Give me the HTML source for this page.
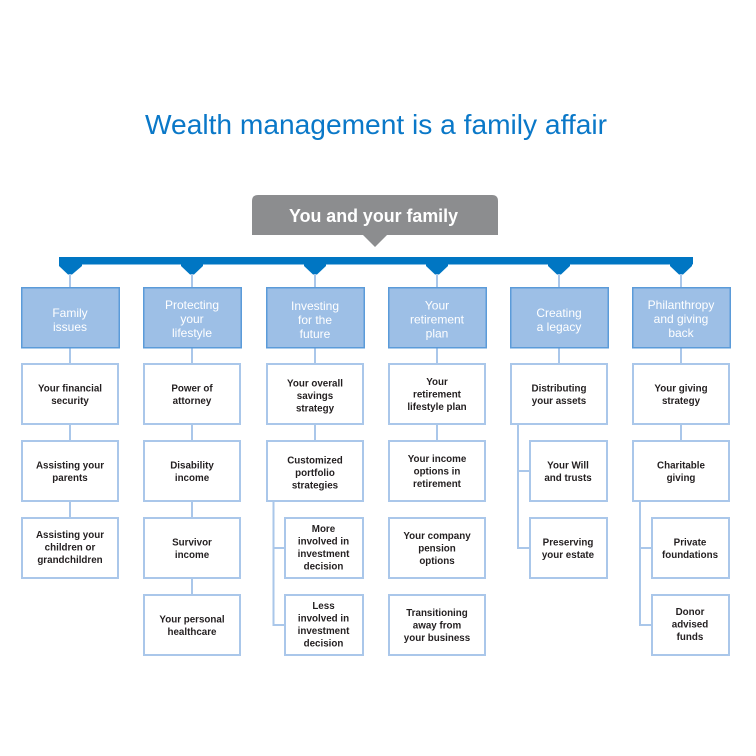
<!DOCTYPE html>
<html><head><meta charset="utf-8"><style>
html,body{margin:0;padding:0;background:#fff;}
svg{display:block;}
.h{font-family:"Liberation Sans",sans-serif;font-size:12px;fill:#fff;text-anchor:middle;}
.b{font-family:"Liberation Sans",sans-serif;font-size:9.8px;font-weight:bold;fill:#231f20;text-anchor:middle;}
</style></head><body>
<svg width="756" height="756" viewBox="0 0 756 756" xmlns="http://www.w3.org/2000/svg">
<rect width="756" height="756" fill="#fff"/>
<text x="145" y="134" font-family="Liberation Sans, sans-serif" font-size="28" fill="#0a78c8" textLength="462" lengthAdjust="spacingAndGlyphs">Wealth management is a family affair</text>

<!-- gray box -->
<path d="M252,235 L252,201 Q252,195 258,195 L492,195 Q498,195 498,201 L498,235 L387,235 L375,247 L363,235 Z" fill="#8c8d8f"/>
<text x="289" y="222" font-family="Liberation Sans, sans-serif" font-size="18.5" font-weight="bold" fill="#fff" textLength="169" lengthAdjust="spacingAndGlyphs">You and your family</text>

<!-- blue bar -->
<rect x="59" y="257" width="634" height="7.5" fill="#0076c3"/>
<g fill="#0076c3">
<polygon points="59,263 82,263 82,266 72,274.5 68,274.5 59,266"/>
<polygon points="181,263 203,263 203,266 194,274.5 190,274.5 181,266"/>
<polygon points="304,263 326,263 326,266 317,274.5 313,274.5 304,266"/>
<polygon points="426,263 448,263 448,266 439,274.5 435,274.5 426,266"/>
<polygon points="548,263 570,263 570,266 561,274.5 557,274.5 548,266"/>
<polygon points="670,263 692,263 692,266 683,274.5 679,274.5 670,266"/>
</g>

<!-- connectors -->
<g stroke="#aac7ea" stroke-width="2" fill="none">
<line x1="70" y1="274" x2="70" y2="287"/>
<line x1="192" y1="274" x2="192" y2="287"/>
<line x1="315" y1="274" x2="315" y2="287"/>
<line x1="437" y1="274" x2="437" y2="287"/>
<line x1="559" y1="274" x2="559" y2="287"/>
<line x1="681" y1="274" x2="681" y2="287"/>
<!-- header to row1 -->
<line x1="70" y1="348" x2="70" y2="364"/>
<line x1="192" y1="348" x2="192" y2="364"/>
<line x1="315" y1="348" x2="315" y2="364"/>
<line x1="437" y1="348" x2="437" y2="364"/>
<line x1="559" y1="348" x2="559" y2="364"/>
<line x1="681" y1="348" x2="681" y2="364"/>
<!-- row connectors -->
<line x1="70" y1="425" x2="70" y2="441"/>
<line x1="70" y1="502" x2="70" y2="518"/>
<line x1="192" y1="425" x2="192" y2="441"/>
<line x1="192" y1="502" x2="192" y2="518"/>
<line x1="192" y1="579" x2="192" y2="595"/>
<line x1="315" y1="425" x2="315" y2="441"/>
<line x1="437" y1="425" x2="437" y2="441"/>
<line x1="681" y1="425" x2="681" y2="441"/>
<!-- brackets -->
<polyline points="285,625 273.5,625 273.5,502"/>
<line x1="273.5" y1="548" x2="285" y2="548"/>
<polyline points="530,548 518,548 518,425"/>
<line x1="518" y1="471" x2="530" y2="471"/>
<polyline points="652,625 640,625 640,502"/>
<line x1="640" y1="548" x2="652" y2="548"/>
</g>

<!-- header boxes -->
<g fill="#9dbfe6" stroke="#5b9bd9" stroke-width="1.5">
<rect x="21.75" y="287.75" width="97.5" height="60"/>
<rect x="143.75" y="287.75" width="97.5" height="60"/>
<rect x="266.75" y="287.75" width="97.5" height="60"/>
<rect x="388.75" y="287.75" width="97.5" height="60"/>
<rect x="510.75" y="287.75" width="97.5" height="60"/>
<rect x="632.75" y="287.75" width="97.5" height="60"/>
</g>
<text class="h" x="70" y="317">Family</text><text class="h" x="70" y="331">issues</text>
<text class="h" x="192" y="309">Protecting</text><text class="h" x="192" y="323">your</text><text class="h" x="192" y="337">lifestyle</text>
<text class="h" x="315" y="310">Investing</text><text class="h" x="315" y="324">for the</text><text class="h" x="315" y="338">future</text>
<text class="h" x="437" y="309.5">Your</text><text class="h" x="437" y="323.5">retirement</text><text class="h" x="437" y="337.5">plan</text>
<text class="h" x="559" y="317">Creating</text><text class="h" x="559" y="331">a legacy</text>
<text class="h" x="681" y="309">Philanthropy</text><text class="h" x="681" y="323">and giving</text><text class="h" x="681" y="337">back</text>

<!-- white boxes -->
<g fill="#fff" stroke="#aac7ea" stroke-width="2">
<!-- col1 -->
<rect x="22" y="364" width="96" height="60"/>
<rect x="22" y="441" width="96" height="60"/>
<rect x="22" y="518" width="96" height="60"/>
<!-- col2 -->
<rect x="144" y="364" width="96" height="60"/>
<rect x="144" y="441" width="96" height="60"/>
<rect x="144" y="518" width="96" height="60"/>
<rect x="144" y="595" width="96" height="60"/>
<!-- col3 -->
<rect x="267" y="364" width="96" height="60"/>
<rect x="267" y="441" width="96" height="60"/>
<rect x="285" y="518" width="78" height="60"/>
<rect x="285" y="595" width="78" height="60"/>
<!-- col4 -->
<rect x="389" y="364" width="96" height="60"/>
<rect x="389" y="441" width="96" height="60"/>
<rect x="389" y="518" width="96" height="60"/>
<rect x="389" y="595" width="96" height="60"/>
<!-- col5 -->
<rect x="511" y="364" width="96" height="60"/>
<rect x="530" y="441" width="77" height="60"/>
<rect x="530" y="518" width="77" height="60"/>
<!-- col6 -->
<rect x="633" y="364" width="96" height="60"/>
<rect x="633" y="441" width="96" height="60"/>
<rect x="652" y="518" width="77" height="60"/>
<rect x="652" y="595" width="77" height="60"/>
</g>

<!-- body text -->
<text class="b" x="70" y="391.5">Your financial</text><text class="b" x="70" y="404">security</text>
<text class="b" x="70" y="468.5">Assisting your</text><text class="b" x="70" y="481">parents</text>
<text class="b" x="70" y="538">Assisting your</text><text class="b" x="70" y="550.5">children or</text><text class="b" x="70" y="563">grandchildren</text>

<text class="b" x="192" y="391.5">Power of</text><text class="b" x="192" y="404">attorney</text>
<text class="b" x="192" y="468.5">Disability</text><text class="b" x="192" y="481">income</text>
<text class="b" x="192" y="545.5">Survivor</text><text class="b" x="192" y="558">income</text>
<text class="b" x="192" y="622.5">Your personal</text><text class="b" x="192" y="635">healthcare</text>

<text class="b" x="315" y="386.5">Your overall</text><text class="b" x="315" y="399">savings</text><text class="b" x="315" y="411.5">strategy</text>
<text class="b" x="315" y="463.5">Customized</text><text class="b" x="315" y="476">portfolio</text><text class="b" x="315" y="488.5">strategies</text>
<text class="b" x="323.5" y="532">More</text><text class="b" x="323.5" y="544.5">involved in</text><text class="b" x="323.5" y="557">investment</text><text class="b" x="323.5" y="569.5">decision</text>
<text class="b" x="323.5" y="609">Less</text><text class="b" x="323.5" y="621.5">involved in</text><text class="b" x="323.5" y="634">investment</text><text class="b" x="323.5" y="646.5">decision</text>

<text class="b" x="437" y="385">Your</text><text class="b" x="437" y="397.5">retirement</text><text class="b" x="437" y="410">lifestyle plan</text>
<text class="b" x="437" y="462">Your income</text><text class="b" x="437" y="474.5">options in</text><text class="b" x="437" y="487">retirement</text>
<text class="b" x="437" y="539">Your company</text><text class="b" x="437" y="551.5">pension</text><text class="b" x="437" y="564">options</text>
<text class="b" x="437" y="616">Transitioning</text><text class="b" x="437" y="628.5">away from</text><text class="b" x="437" y="641">your business</text>

<text class="b" x="559" y="391.5">Distributing</text><text class="b" x="559" y="404">your assets</text>
<text class="b" x="568" y="468.5">Your Will</text><text class="b" x="568" y="481">and trusts</text>
<text class="b" x="568" y="545.5">Preserving</text><text class="b" x="568" y="558">your estate</text>

<text class="b" x="681" y="391.5">Your giving</text><text class="b" x="681" y="404">strategy</text>
<text class="b" x="681" y="468.5">Charitable</text><text class="b" x="681" y="481">giving</text>
<text class="b" x="690" y="545.5">Private</text><text class="b" x="690" y="558">foundations</text>
<text class="b" x="690" y="615">Donor</text><text class="b" x="690" y="627.5">advised</text><text class="b" x="690" y="640">funds</text>
</svg>
</body></html>
